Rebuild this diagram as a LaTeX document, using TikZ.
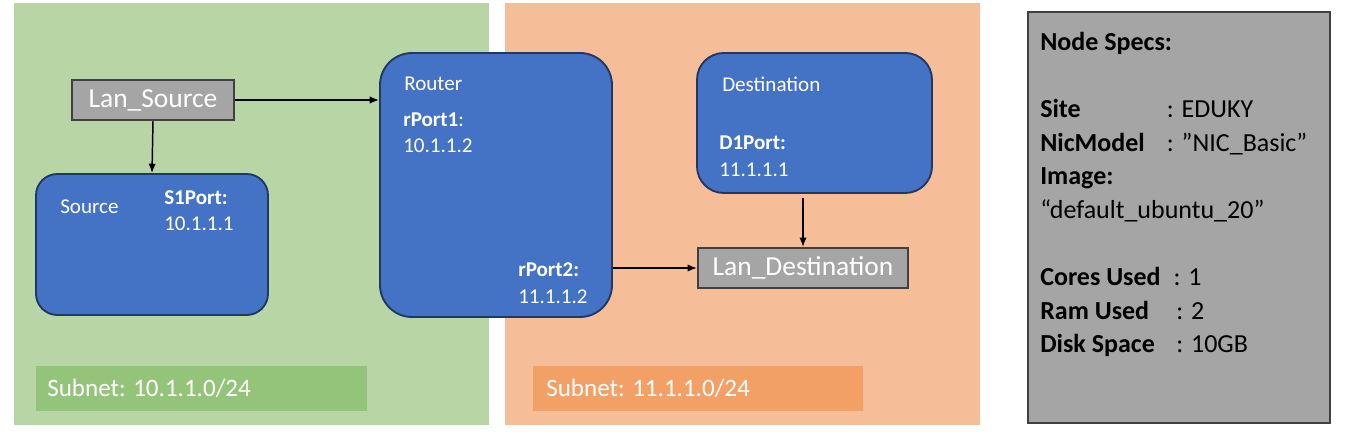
\documentclass[tikz,border=0pt]{standalone}
\usepackage{fontspec}
\setmainfont{Carlito}
\usetikzlibrary{arrows.meta}

\definecolor{subgreen}{HTML}{B8D6A5}
\definecolor{taggreen}{HTML}{93C47A}
\definecolor{suborange}{HTML}{F6BE98}
\definecolor{tagorange}{HTML}{F2A065}
\definecolor{hostblue}{HTML}{4472C4}
\definecolor{hostedge}{HTML}{1F3864}
\definecolor{langray}{HTML}{A5A5A5}
\definecolor{lanedge}{HTML}{404040}

\tikzset{
  host/.style={draw=hostedge, line width=1.4pt, fill=hostblue, inner sep=0pt},
  lan/.style={draw=lanedge, line width=1.6pt, fill=langray, text=white,
    font=\fontsize{20.6}{24}\selectfont, inner sep=0pt},
  tag/.style={text=white, font=\fontsize{15.8}{19}\selectfont, inner sep=0pt, anchor=west},
  subnettag/.style={text=white, font=\fontsize{18.8}{23}\selectfont, inner sep=0pt, anchor=west},
  link/.style={-{Latex[length=7pt,width=5.5pt]}, line width=1.1pt},
}

\begin{document}
\begin{tikzpicture}[x=0.75pt, y=-0.75pt]

  \useasboundingbox (0,0) rectangle (1360,448);

  % Subnets

  \fill[subgreen] (14,3) rectangle (489,425);
  \fill[suborange] (505,3) rectangle (980,425);
  \fill[taggreen] (36,366) rectangle (367,411);
  \fill[tagorange] (533,366) rectangle (863,411);
  \node[subnettag] (subnet1) at (47,388) {Subnet: 10.1.1.0/24};
  \node[subnettag] (subnet2) at (546,388) {Subnet: 11.1.1.0/24};

  % Hosts

  \node[host, rounded corners=16pt, minimum width=174pt, minimum height=105.75pt] (source) at (152,244.5) {};
  \node[host, rounded corners=24pt, minimum width=174pt, minimum height=198pt] (router) at (496,185) {};
  \node[host, rounded corners=20pt, minimum width=176.25pt, minimum height=105pt] (dest) at (814.5,123) {};

  \node[tag] (sourcelbl) at (60,207) {Source};
  \node[tag] (s1port) at (164,198) {\textbf{S1Port:}};
  \node[tag] (s1ip) at (164,224) {10.1.1.1};

  \node[tag] (routerlbl) at (404,84) {Router};
  \node[tag] (rport1) at (403,120) {\textbf{rPort1}:};
  \node[tag] (rport1ip) at (403,146) {10.1.1.2};
  \node[tag] (rport2) at (518,270) {\textbf{rPort2:}};
  \node[tag] (rport2ip) at (518,297) {11.1.1.2};

  \node[tag] (destlbl) at (722,84) {Destination};
  \node[tag] (d1port) at (719,143) {\textbf{D1Port:}};
  \node[tag] (d1ip) at (719,170) {11.1.1.1};

  % LANs

  \node[lan, minimum width=121.5pt, minimum height=30pt] (lansrc) at (153,100) {Lan\_Source};
  \node[lan, minimum width=157.5pt, minimum height=30pt] (landst) at (803,268) {Lan\_Destination};

  % Specs

  \node[draw=lanedge, line width=1.6pt, fill=langray, minimum width=226.5pt, minimum height=308.25pt] (specs) at (1179,217.5) {};
  \node[anchor=north west, align=left, inner sep=0pt, font=\fontsize{19.5}{25.2}\selectfont] (specstext) at (1040,32) {%
    \textbf{Node Specs:}\\[25.2pt]
    \makebox[95pt][l]{\textbf{Site}}: EDUKY\\
    \makebox[95pt][l]{\textbf{NicModel}}: ”NIC\_Basic”\\
    \textbf{Image:}\\
    “default\_ubuntu\_20”\\[25.2pt]
    \makebox[100pt][l]{\textbf{Cores Used}}: 1\\
    \makebox[102pt][l]{\textbf{Ram Used}}: 2\\
    \makebox[102pt][l]{\textbf{Disk Space}}: 10GB};

  % Edges

  \draw[link] (lansrc.east) -- (lansrc.east -| router.west);
  \draw[link] (lansrc.south) -- (source.north);
  \draw[link] (router.east |- landst.west) -- (landst.west);
  \draw[link] ([yshift=-3pt]landst.north |- dest.south) -- (landst.north);

\end{tikzpicture}
\end{document}
